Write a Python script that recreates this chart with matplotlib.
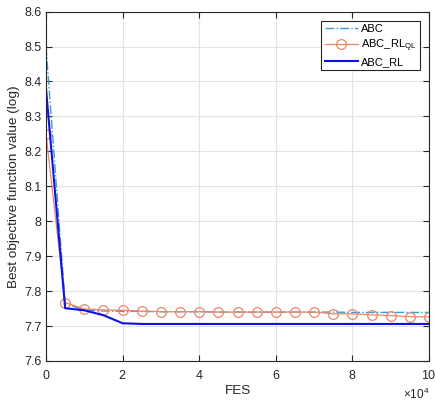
import matplotlib
matplotlib.use("Agg")
import matplotlib.pyplot as plt
from matplotlib.ticker import ScalarFormatter

plt.rcParams['font.family'] = ['Liberation Sans', 'DejaVu Sans']
plt.rcParams['mathtext.fontset'] = 'custom'
plt.rcParams['mathtext.rm'] = 'Liberation Sans'
plt.rcParams['mathtext.it'] = 'Liberation Sans'

# evaluations (FES), one sample every 5000
fes = [0, 5000, 10000, 15000, 20000, 25000, 30000, 35000, 40000, 45000, 50000,
       55000, 60000, 65000, 70000, 75000, 80000, 85000, 90000, 95000, 100000]

abc = [8.50, 7.765, 7.745, 7.743, 7.742, 7.742, 7.741, 7.741, 7.741, 7.740, 7.740,
       7.740, 7.740, 7.740, 7.740, 7.740, 7.739, 7.739, 7.739, 7.739, 7.739]
abc_rl_ql = [8.25, 7.767, 7.749, 7.746, 7.745, 7.743, 7.741, 7.741, 7.741, 7.740, 7.740,
             7.740, 7.740, 7.740, 7.740, 7.735, 7.735, 7.732, 7.730, 7.727, 7.726]
abc_rl = [8.38, 7.751, 7.745, 7.731, 7.708, 7.706, 7.706, 7.706, 7.706, 7.706, 7.706,
          7.706, 7.706, 7.706, 7.706, 7.706, 7.706, 7.706, 7.706, 7.706, 7.706]

fig = plt.figure(figsize=(4.36, 4.01), dpi=100)
ax = fig.add_axes([0.1055, 0.0998, 0.8785, 0.8712])

ax.plot(fes, abc, color='#3D9AD1', linestyle='-.', linewidth=1.0, label='ABC')
ax.plot(fes, abc_rl_ql, color='#E8876A', linestyle='-', linewidth=0.9,
        marker='o', markersize=7, markerfacecolor='none', markeredgewidth=0.9,
        label=r'ABC_RL$_{\mathrm{QL}}$')
ax.plot(fes, abc_rl, color='#1010E8', linestyle='-', linewidth=1.5, label='ABC_RL')

ax.set_xlim(0, 100000)
ax.set_ylim(7.6, 8.6)
ax.set_xticks([0, 20000, 40000, 60000, 80000, 100000])
ax.set_yticks([7.6, 7.7, 7.8, 7.9, 8.0, 8.1, 8.2, 8.3, 8.4, 8.5, 8.6])
ax.set_yticklabels(['7.6', '7.7', '7.8', '7.9', '8', '8.1', '8.2', '8.3', '8.4', '8.5', '8.6'])

fmt = ScalarFormatter(useMathText=True)
fmt.set_powerlimits((4, 4))
ax.xaxis.set_major_formatter(fmt)
ax.xaxis.get_offset_text().set_fontsize(8.5)
ax.xaxis.get_offset_text().set_color('#262626')

ax.grid(True, color='#E3E3E3', linewidth=0.8)
ax.set_axisbelow(True)
ax.tick_params(direction='in', top=True, right=True, labelsize=9,
               colors='#262626', length=4)
ax.tick_params(axis='x', pad=6)
ax.tick_params(axis='y', pad=3)
for s in ax.spines.values():
    s.set_color('#262626')
    s.set_linewidth(0.8)

ax.set_xlabel('FES', fontsize=9.7, color='#262626', labelpad=2)
ax.set_ylabel('Best objective function value (log)', fontsize=9.7, color='#262626',
              labelpad=3)

leg = ax.legend(loc='upper right', fontsize=8, fancybox=False, framealpha=1,
                edgecolor='#262626', handlelength=3.0, borderpad=0.3,
                labelspacing=0.3, handletextpad=0.3, borderaxespad=0.8)
leg.get_frame().set_linewidth(0.8)

fig.savefig('out.png', dpi=100)
